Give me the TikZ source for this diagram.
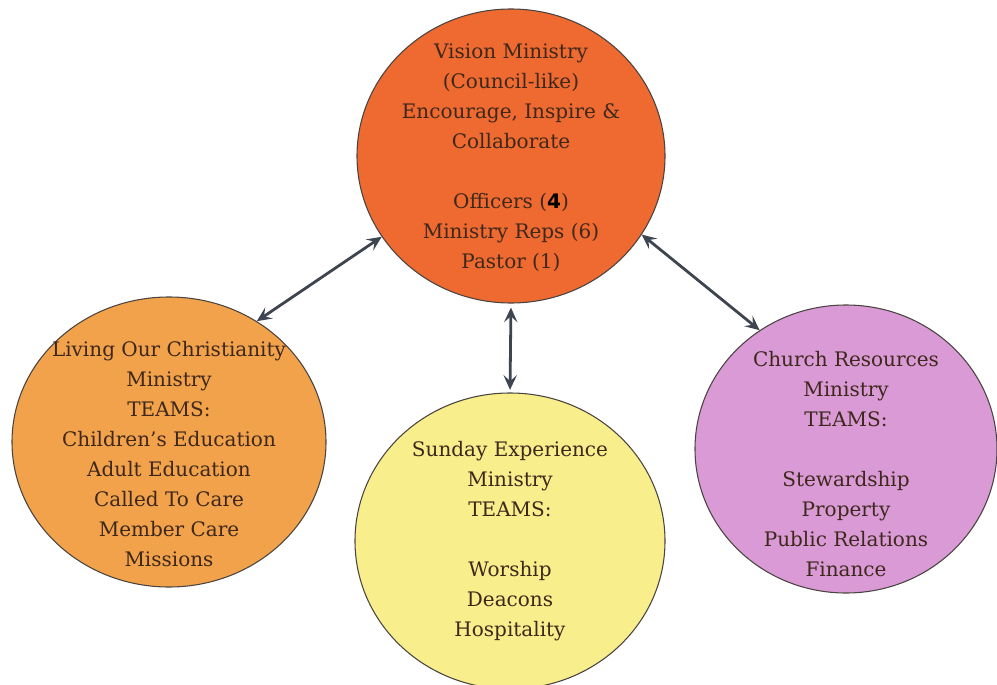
\documentclass[tikz,border=0pt]{standalone}
\usepackage{fontspec}
\setmainfont{DejaVu Serif}
\newfontfamily\boldsansfont{DejaVu Sans}
\usetikzlibrary{shapes.geometric,arrows.meta}
\definecolor{topfill}{HTML}{EE6A30}
\definecolor{leftfill}{HTML}{F2A24A}
\definecolor{botfill}{HTML}{F8EE8C}
\definecolor{rightfill}{HTML}{D99AD6}
\definecolor{edgecol}{HTML}{4A4440}
\definecolor{txtcol}{HTML}{3E281C}
\definecolor{arrcol}{HTML}{3E4450}
\tikzset{
  blob/.style={ellipse, draw=edgecol, line width=0.8pt, inner sep=0pt},
  lbl/.style={align=center, text=txtcol, font=\fontsize{15}{22.5}\selectfont},
  link/.style={draw=arrcol, line width=2.1pt, {Stealth[length=11pt,width=10pt,inset=4.5pt]}-{Stealth[length=11pt,width=10pt,inset=4.5pt]}}
}
\begin{document}
\begin{tikzpicture}[x=0.75pt,y=-0.75pt]
\useasboundingbox (0,0) rectangle (997,685);
\fill[white] (0,0) rectangle (997,685);
\node[blob, fill=topfill, minimum width=308*0.75pt, minimum height=294*0.75pt] (top) at (511,156) {};
\node[blob, fill=leftfill, minimum width=314*0.75pt, minimum height=290*0.75pt] (left) at (169,442) {};
\node[blob, fill=botfill, minimum width=310*0.75pt, minimum height=296*0.75pt] (bot) at (510,541) {};
\node[blob, fill=rightfill, minimum width=302*0.75pt, minimum height=288*0.75pt] (right) at (846,449) {};

\node[lbl] (toptext) at (511,158) {Vision Ministry\\(Council-like)\\Encourage, Inspire \&\\Collaborate\\[22.5pt]Officers ({\boldsansfont\bfseries\color{black}4})\\Ministry Reps (6)\\Pastor (1)};
\node[lbl] (lefttext) at (169,454) {Living Our Christianity\\Ministry\\TEAMS:\\Children’s Education\\Adult Education\\Called To Care\\Member Care\\Missions};
\node[lbl] (bottext) at (510,541) {Sunday Experience\\Ministry\\TEAMS:\\[22.5pt]Worship\\Deacons\\Hospitality};
\node[lbl] (righttext) at (846,464) {Church Resources\\Ministry\\TEAMS:\\[22.5pt]Stewardship\\Property\\Public Relations\\Finance};

\draw[link] (left.54) -- (top.212);
\draw[link] (top.329) -- (right.126);
\draw[link, shorten <=3pt, shorten >=2pt] (top.270) -- (bot.90);
\end{tikzpicture}
\end{document}
